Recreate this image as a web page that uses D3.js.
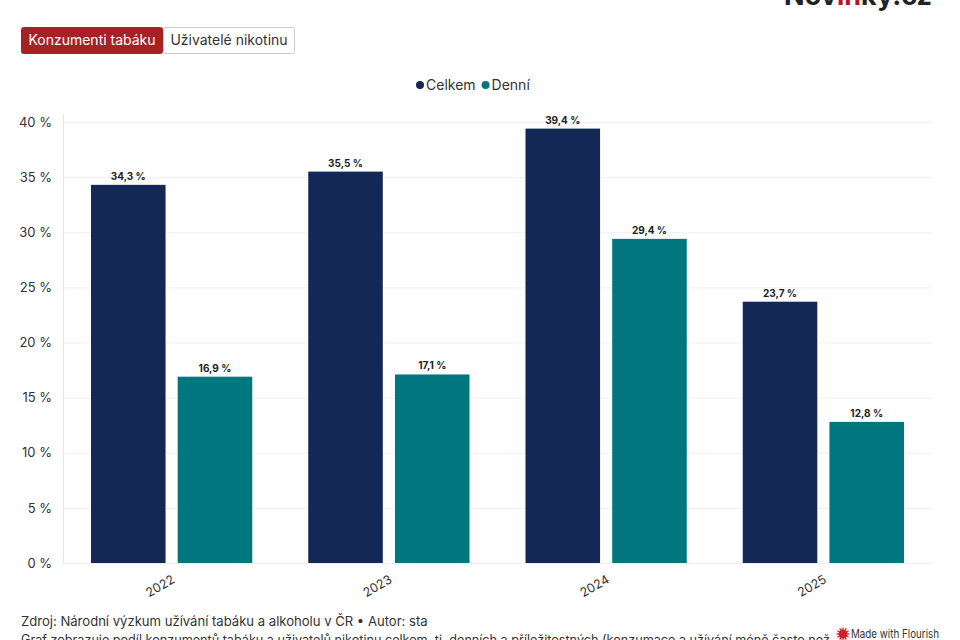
<!DOCTYPE html>
<html>
<head>
<meta charset="utf-8">
<script src="https://cdn.jsdelivr.net/npm/d3@7"></script>
<style>
  body { margin: 0; background: #fff; font-family: Inter, "Noto Sans", sans-serif; }
  svg { display: block; }
</style>
</head>
<body>
<div id="chart"></div>
<script>
var years = ["2022", "2023", "2024", "2025"];
var seriesNames = ["Celkem", "Denní"];
var celkem = [34.3, 35.5, 39.4, 23.7];
var denni = [16.9, 17.1, 29.4, 12.8];
var yTicks = [0, 5, 10, 15, 20, 25, 30, 35, 40];
var tabs = ["Konzumenti tabáku", "Uživatelé nikotinu"];
var colors = ["#142857", "#00767f"];

var W = 960, H = 640;
var margin = {top: 122, right: 28, bottom: 77, left: 63},
  width = W - margin.left - margin.right,
  height = H - margin.top - margin.bottom;

var fmt = function (v) { return String(v).replace(".", ",") + " %"; };

var svg = d3.select("#chart").append("svg")
  .attr("width", W)
  .attr("height", H);

// logo, cut at the top edge like in the picture
svg.append("text")
  .attr("x", 932).attr("y", 5)
  .attr("text-anchor", "end")
  .style("font-size", "27px").style("font-weight", 700)
  .style("fill", "#222")
  .html('Nov<tspan fill="#b3182a">in</tspan>ky.cz');

// tabs
var tabX = [21, 163], tabW = [142, 132];
tabs.forEach(function (t, i) {
  svg.append("rect")
    .attr("x", tabX[i] + 0.5).attr("y", 27.5)
    .attr("width", tabW[i] - 1).attr("height", 26)
    .attr("rx", 2)
    .attr("fill", i == 0 ? "#a52125" : "#fff")
    .attr("stroke", i == 0 ? "#a52125" : "#ccc");
  svg.append("text")
    .attr("x", tabX[i] + tabW[i] / 2).attr("y", 45)
    .attr("text-anchor", "middle")
    .style("font-size", "14px")
    .style("fill", i == 0 ? "#fff" : "#333")
    .text(t);
});

// legend
var legend = svg.append("g").attr("transform", "translate(420,85)");
var lx = 0;
seriesNames.forEach(function (s, i) {
  legend.append("circle").attr("cx", lx).attr("cy", 0).attr("r", 4).attr("fill", colors[i]);
  var t = legend.append("text").attr("x", lx + 6).attr("y", 5)
    .style("font-size", "14px").style("fill", "#333").text(s);
  lx += 6 + t.node().getComputedTextLength() + 10;
});

var g = svg.append("g")
  .attr("transform", "translate(" + margin.left + "," + margin.top + ")");

var x0 = d3.scaleBand().domain(years).range([0, width]).paddingInner(0).paddingOuter(0);
var x1 = d3.scaleBand().domain(seriesNames).range([28, x0.bandwidth() - 28]).paddingInner(0.14);
var y = d3.scaleLinear().domain([0, 40]).range([height, 0]);

// grid
g.append("g").selectAll("line")
  .data(yTicks).enter().append("line")
  .attr("x1", 0).attr("x2", width)
  .attr("y1", function (d) { return y(d) + 0.5; })
  .attr("y2", function (d) { return y(d) + 0.5; })
  .attr("stroke", "#efefef");

g.append("line")
  .attr("x1", 0.5).attr("x2", 0.5)
  .attr("y1", -8).attr("y2", height)
  .attr("stroke", "#e6e6e6");

var yAxis = g.append("g")
  .call(d3.axisLeft(y).tickValues(yTicks).tickSize(0).tickPadding(11).tickFormat(function (d) { return d + " %"; }));
yAxis.select(".domain").remove();
yAxis.selectAll("text").style("font-size", "13px").style("fill", "#333").style("font-family", "Inter, sans-serif");

var data = years.map(function (yr, i) {
  return {year: yr, values: [{key: "Celkem", v: celkem[i]}, {key: "Denní", v: denni[i]}]};
});

var grp = g.selectAll(".grp").data(data).enter().append("g")
  .attr("class", "grp")
  .attr("transform", function (d) { return "translate(" + x0(d.year) + ",0)"; });

grp.selectAll("rect").data(function (d) { return d.values; }).enter().append("rect")
  .attr("x", function (d) { return x1(d.key); })
  .attr("width", x1.bandwidth())
  .attr("y", function (d) { return y(d.v); })
  .attr("height", function (d) { return height - y(d.v); })
  .attr("fill", function (d, i) { return colors[i]; });

grp.selectAll(".lbl").data(function (d) { return d.values; }).enter().append("text")
  .attr("class", "lbl")
  .attr("x", function (d) { return x1(d.key) + x1.bandwidth() / 2; })
  .attr("y", function (d) { return y(d.v) - 5; })
  .attr("text-anchor", "middle")
  .style("font-size", "10px").style("font-weight", 700).style("fill", "#222")
  .text(function (d) { return fmt(d.v); });

var xAxis = g.append("g")
  .attr("transform", "translate(0," + height + ")")
  .call(d3.axisBottom(x0).tickSize(0).tickPadding(0));
xAxis.select(".domain").remove();
xAxis.selectAll("text")
  .attr("text-anchor", "end")
  .attr("dy", 0)
  .attr("transform", "translate(4,19) rotate(-30)")
  .style("font-size", "12.5px").style("fill", "#333").style("font-family", "Inter, sans-serif");

// footer, each line fitted to the width it takes in the picture
function footLine(txt, yy, right) {
  var t = svg.append("text").attr("x", 21).attr("y", yy)
    .style("font-size", "13px").style("fill", "#333").text(txt);
  var fs = 13 * (right - 21) / t.node().getComputedTextLength();
  t.style("font-size", fs.toFixed(2) + "px");
}
footLine("Zdroj: Národní výzkum užívání tabáku a alkoholu v ČR • Autor: sta", 626, 428);
footLine("Graf zobrazuje podíl konzumentů tabáku a uživatelů nikotinu celkem, tj. denních a příležitostných (konzumace a užívání méně často než", 644, 830);

var badge = svg.append("g").attr("transform", "translate(843,634)");
badge.append("circle").attr("r", 4.5).attr("fill", "#d0202a");
d3.range(12).forEach(function (k) {
  var a = k * Math.PI / 6;
  badge.append("line")
    .attr("x1", Math.cos(a) * 4).attr("y1", Math.sin(a) * 4)
    .attr("x2", Math.cos(a) * 6.5).attr("y2", Math.sin(a) * 6.5)
    .attr("stroke", "#d0202a").attr("stroke-width", 1.3);
});
badge.append("text").attr("x", 8).attr("y", 4)
  .attr("textLength", 88).attr("lengthAdjust", "spacingAndGlyphs")
  .style("font-size", "11.5px").style("fill", "#333")
  .text("Made with Flourish");
</script>
</body>
</html>
